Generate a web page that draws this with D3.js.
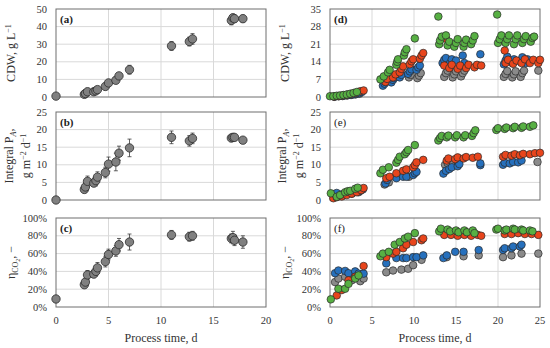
<!DOCTYPE html>
<html>
<head>
<meta charset="utf-8">
<script src="https://cdn.jsdelivr.net/npm/d3@7"></script>
<style>
  body { margin: 0; background: #fff; }
  svg { display: block; font-family: "Liberation Serif", serif; }
</style>
</head>
<body>
<div id="chart"></div>
<script>
// left panels (a)-(c): one mean series with error bars
const leftTime = [0, 2.7, 2.8, 3.0, 3.6, 3.8, 3.95, 4.7, 5.0, 5.7, 6.0, 7.0, 11.0, 12.7, 13.0, 16.7, 16.85, 17.0, 17.8]
const cdwMean = [0.5, 1.5, 2, 3, 3, 3.5, 4.2, 6, 8, 9.5, 12, 15.5, 29, 31.5, 33, 43.5, 45, 44.5, 44.5]
const cdwErr = [0, 0.5, 0.5, 0.7, 0.7, 0.8, 0.8, 1, 1, 1.2, 1.5, 2.5, 2.5, 2.5, 3, 2.5, 2, 2, 2]
const paMean = [0, 3, 3.7, 5.3, 4.8, 5.5, 6.5, 7.8, 10.2, 10.8, 13.3, 14.8, 17.8, 16.8, 17.5, 17.6, 17.8, 17.8, 17]
const paErr = [0, 0.8, 1, 1.5, 1, 1.5, 1.5, 1.5, 2, 2.5, 2, 2.5, 1.8, 1.5, 1.5, 1, 1, 0.8, 0.5]
const etaMean = [9, 25, 28, 36, 37, 40, 44, 51, 59, 63, 70, 73, 81, 79, 80, 77, 78, 75, 73]
const etaErr = [0, 3, 4, 5, 4, 5, 6, 6, 6, 6, 7, 9, 5, 5, 5, 5, 7, 6, 7]

// right panels (d)-(f): four runs, [time, value]
const grayCdw = [[0.5,0.1],[1.0,0.3],[1.5,0.4],[2.0,0.6],[2.5,0.8],[3.0,1.0],[3.5,1.3],
  [9.4,7.8],[9.6,8.8],[10.4,7.5],[10.6,8.5],[10.8,9.5],
  [13.6,8],[13.8,9.5],[14.0,10.5],[14.6,7.8],[14.8,9],[15.0,10.2],[15.6,8.2],[15.8,9.5],[16.0,10.5],
  [20.7,8],[20.9,9.2],[21.1,10.3],[21.7,7.8],[21.9,9],[22.1,10.2],[22.7,8],[22.9,9.5],[23.1,10.5],[24.8,10.5]]
const blueCdw = [[0.6,0.2],[1.1,0.4],[1.6,0.5],[2.1,0.7],[2.6,0.9],[3.1,1.2],[3.5,1.6],[3.8,2.0],
  [6.3,4.5],[6.5,5.3],[6.6,6.0],[7.3,5.8],[7.5,6.8],[7.6,7.5],[8.3,7.8],[8.5,8.8],[9.3,9.2],[9.5,10.2],[9.7,11.0],[10.3,10.8],[10.5,11.8],[10.7,12.5],
  [13.4,13.5],[13.6,14.8],[13.8,15.5],[14.3,13.5],[14.5,15],[15.0,14.5],[15.8,16.5],[16.0,13.5],[17.9,17.0],
  [20.4,22.8],[20.7,13],[20.9,14.5],[21.1,16],[21.7,13.5],[21.9,15],[22.7,14],[22.9,15.8],[23.3,13.5],[23.5,15]]
const redCdw = [[0.5,0.2],[1.0,0.4],[1.5,0.6],[2.0,0.9],[2.5,1.2],[3.0,1.6],[3.6,2.3],[4.0,2.6],
  [6.6,6.0],[6.8,7.2],[7.5,7.8],[7.8,9.0],[8.3,9.8],[8.5,11.2],[8.7,12.2],[9.5,13.0],[9.7,14.2],[9.9,15.0],[10.7,15.2],[10.9,16.5],[11.1,17.5],
  [13.8,23.2],[13.6,12.5],[14.2,11.5],[14.5,12.8],[15.2,11.2],[15.5,12.5],[16.2,11.5],[16.5,12.8],[17.2,11.8],[17.5,12.8],[18.0,12.5],
  [20.8,18.5],[20.9,13.5],[21.2,14.8],[21.8,13.2],[22.2,14.5],[22.8,13.5],[23.2,15],[23.8,13.5],[24.2,14.8],[24.8,13.5],[25,14.8]]
const greenCdw = [[0,0.3],[0.4,0.3],[0.8,0.5],[1.2,0.6],[1.6,0.8],[2.0,1.0],[2.4,1.3],[2.8,1.6],[3.2,2.0],
  [6.0,7.0],[6.4,8.2],[6.9,9.8],[7.1,10.8],[7.9,12.8],[8.0,14.0],[8.1,15.0],[8.8,16.5],[8.9,17.8],[9.1,19.0],[10.1,23.3],
  [12.9,32],[13.0,21],[13.1,22.5],[13.3,24],[13.8,24.5],[14.0,20.5],[14.2,22],[14.8,20],[15.0,21.5],[15.2,23],[15.9,20],[16.0,21.5],[16.2,22.8],[16.8,21],[17.0,22.5],[17.2,24.2],
  [19.9,32.8],[20.0,21.5],[20.2,23],[20.4,24.5],[20.9,21.5],[21.1,23],[21.3,24.5],[21.9,21],[22.1,23],[22.3,24.5],[22.9,21.5],[23.1,23],[23.3,24.2],[23.9,22],[24.1,23.5],[24.3,24]]

const grayPa = [[0.6,0.8],[1.2,1.2],[1.8,1.6],[2.6,1.8],[3.4,2.2],
  [6.5,4.4],[7.0,5.0],[9.4,6.6],
  [13.7,10.0],[14.0,10.5],[14.6,10.8],[15.2,10.8],
  [24.7,10.8]]
const bluePa = [[0.4,1.6],[0.8,2.0],[1.4,1.6],[2.0,1.8],[2.6,2.0],[3.2,2.4],[3.6,2.6],[3.9,3.0],
  [6.6,4.7],[6.8,5.7],[7.9,6.2],[8.7,6.6],[9.1,6.6],[9.9,7.1],[10.1,7.6],[10.3,8.0],
  [13.5,7.5],[13.8,8.3],[14.2,8.8],[14.5,9.3],[15.2,9.6],[15.4,10.2],[17.9,9.9],[17.9,10.4],
  [20.6,10.0],[20.8,10.6],[21.4,10.4],[21.8,10.8],[22.4,10.7],[22.8,11.2]]
const redPa = [[0.4,0.5],[0.8,0.8],[1.4,1.0],[2.0,1.4],[2.6,1.8],[3.2,2.2],[3.7,2.8],[4.0,3.4],
  [6.7,6.2],[7.1,6.6],[7.9,7.6],[8.7,8.3],[9.1,8.7],[9.9,9.3],[10.1,9.9],[10.3,10.7],[11.1,11.4],
  [13.9,11.2],[14.1,11.8],[14.9,11.6],[15.2,12.1],[15.9,11.8],[16.2,12.2],[17.0,12.0],[17.6,12.3],
  [20.6,12.3],[20.9,12.8],[21.6,12.6],[22.0,13.0],[22.6,12.7],[23.0,13.1],[23.8,13.0],[24.4,13.3],[25.0,13.4]]
const greenPa = [[0.1,1.9],[0.8,0.9],[1.2,1.4],[1.8,2.2],[2.1,2.5],[2.4,2.6],[3.0,3.2],[3.3,3.5],
  [6.0,7.6],[6.3,8.6],[7.0,9.3],[7.9,10.6],[8.1,11.4],[8.3,12.3],[8.9,13.0],[9.1,13.6],[9.3,14.2],[10.1,15.6],
  [12.9,16.9],[13.1,17.6],[13.3,18.2],[13.9,17.8],[14.1,18.3],[14.9,17.8],[15.1,18.4],[15.9,17.8],[16.1,18.4],[16.9,18.2],[17.1,19.0],[17.3,19.8],
  [19.8,19.9],[20.0,20.4],[20.8,20.2],[21.0,20.6],[21.8,20.4],[22.0,20.8],[22.8,20.5],[23.0,20.9],[23.8,20.8],[24.2,21.2]]

const grayEta = [[0.6,28],[1.0,32],[1.8,34],[2.6,30],[3.6,29],[4.0,32],
  [6.7,39],[7.5,41],[8.5,42],[9.3,43],[9.9,47],[10.9,53],
  [13.9,56],[15.9,57],[17.7,58],
  [20.6,56],[21.6,58],[22.8,60],[24.8,60]]
const blueEta = [[0.6,38],[1.0,41],[1.8,40.5],[2.2,38],[3.0,40],[3.4,37.5],[4.0,37.5],
  [6.7,49],[7.9,55],[8.7,55],[9.1,55],[9.9,56],[10.3,56],[11.1,58],
  [13.5,55],[13.9,58],[14.9,62],[15.9,62],[17.7,64],
  [20.6,64],[20.8,66],[21.6,66],[21.8,68],[22.6,68],[22.8,70]]
const redEta = [[0.8,13],[1.4,19],[2.2,30],[3.0,34],[4.0,46],
  [6.7,56],[7.5,60],[7.9,62],[8.7,66],[9.1,70],[9.9,73],[10.9,75],[11.1,77],
  [13.6,81],[14.4,81],[15.2,80],[16.0,81],[16.8,80],[17.6,81],[18.0,80],
  [20.8,82],[21.6,82],[22.4,83],[23.2,82],[24.0,82],[24.8,81]]
const greenEta = [[0.1,8.6],[1.0,20.5],[1.8,20.5],[2.2,26],[3.0,32],[3.4,35.5],
  [6.0,57],[6.3,60],[7.0,62],[7.7,70],[8.3,73],[8.9,77],[9.3,79],[10.1,83],
  [13.0,85],[13.2,88],[14.0,87],[14.3,85],[15.0,86],[15.3,84],[16.0,86],[16.3,84],[17.0,86],[17.2,83],
  [19.8,87],[20.0,88],[20.8,86],[21.0,87],[21.8,88],[22.0,87],[22.8,87],[23.0,86],[23.8,86],[24.1,85]]

const runColors = { gray: "#8a8a8a", blue: "#2670bd", red: "#e8451c", green: "#57b043" }

let width = 550, height = 348
let svg = d3.select("#chart").append("svg")
  .attr("width", width)
  .attr("height", height)

// panel frames in pixels
let rows = [{ top: 9, bottom: 97 }, { top: 112, bottom: 200 }, { top: 218, bottom: 307 }]
let leftCol = { left: 56, right: 266 }
let rightCol = { left: 330, right: 540 }

let tickFont = 10.5
let titleFont = 12

function drawFrame(g, x, y, xTicks, yTicks, yFmt, showXLabels) {
  let [x0, x1] = x.range()
  let [y0, y1] = y.range()
  g.append("g").selectAll("line.vg").data(xTicks.filter(d => d !== x.domain()[0] && d !== x.domain()[1]))
    .join("line")
    .attr("x1", d => x(d)).attr("x2", d => x(d))
    .attr("y1", y0).attr("y2", y1)
    .attr("stroke", "#d9d9d9").attr("stroke-width", 1)
  g.append("g").selectAll("line.hg").data(yTicks.filter(d => d !== y.domain()[0] && d !== y.domain()[1]))
    .join("line")
    .attr("x1", x0).attr("x2", x1)
    .attr("y1", d => y(d)).attr("y2", d => y(d))
    .attr("stroke", "#d9d9d9").attr("stroke-width", 1)
  g.append("rect")
    .attr("x", x0).attr("y", y1)
    .attr("width", x1 - x0).attr("height", y0 - y1)
    .attr("fill", "none").attr("stroke", "#6e6e6e").attr("stroke-width", 1)

  g.append("g").selectAll("text").data(yTicks).join("text")
    .attr("x", x0 - 9)
    .attr("y", d => y(d))
    .attr("dy", "0.35em")
    .attr("text-anchor", "end")
    .attr("font-size", tickFont)
    .attr("fill", "#333")
    .text(yFmt)

  if (showXLabels) {
    g.append("g").selectAll("text").data(xTicks).join("text")
      .attr("x", d => x(d))
      .attr("y", y0 + 17)
      .attr("text-anchor", "middle")
      .attr("font-size", tickFont)
      .attr("fill", "#333")
      .text(d => d)
    g.append("text")
      .attr("x", (x0 + x1) / 2)
      .attr("y", y0 + 35)
      .attr("text-anchor", "middle")
      .attr("font-size", titleFont)
      .attr("fill", "#333")
      .text("Process time, d")
  }
}

function panelLabel(g, x, y, label, bold) {
  g.append("text")
    .attr("x", x.range()[0] + 4)
    .attr("y", y.range()[1] + 14)
    .attr("font-size", 11)
    .attr("font-weight", bold ? "bold" : "normal")
    .attr("fill", "#222")
    .text(label)
}

// y axis titles
function titleCdw(g, cx, cy) {
  let t = g.append("text")
    .attr("transform", `translate(${cx},${cy}) rotate(-90)`)
    .attr("text-anchor", "middle")
    .attr("font-size", titleFont)
    .attr("fill", "#333")
  t.append("tspan").text("CDW, g L")
  t.append("tspan").attr("dy", -4).attr("font-size", 8).text("\u22121")
}

function titlePa(g, cx, cy) {
  let t1 = g.append("text")
    .attr("transform", `translate(${cx - 9},${cy}) rotate(-90)`)
    .attr("text-anchor", "middle")
    .attr("font-size", titleFont)
    .attr("fill", "#333")
  t1.append("tspan").text("Integral P")
  t1.append("tspan").attr("dy", 3).attr("font-size", 8).attr("font-style", "italic").text("A")
  t1.append("tspan").attr("dy", -3).text(",")
  let t2 = g.append("text")
    .attr("transform", `translate(${cx + 8},${cy}) rotate(-90)`)
    .attr("text-anchor", "middle")
    .attr("font-size", titleFont)
    .attr("fill", "#333")
  t2.append("tspan").text("g m")
  t2.append("tspan").attr("dy", -4).attr("font-size", 8).text("\u22122")
  t2.append("tspan").attr("dy", 4).text(" d")
  t2.append("tspan").attr("dy", -4).attr("font-size", 8).text("\u22121")
}

function titleEta(g, cx, cy) {
  let t = g.append("text")
    .attr("transform", `translate(${cx},${cy}) rotate(-90)`)
    .attr("text-anchor", "middle")
    .attr("font-size", titleFont)
    .attr("fill", "#333")
  t.append("tspan").text("\u03b7")
  t.append("tspan").attr("dy", 3).attr("font-size", 8).text("CO")
  t.append("tspan").attr("dy", 2).attr("font-size", 6).text("2")
  t.append("tspan").attr("dy", -5).text(", \u2212")
}

let pct = d => d + "%"

// ---- left column ----
let xLeft = d3.scaleLinear().domain([0, 20]).range([leftCol.left, leftCol.right])
let xLeftTicks = [0, 5, 10, 15, 20]

let leftPanels = [
  { row: rows[0], domain: [0, 50], ticks: [0, 10, 20, 30, 40, 50], fmt: d => d, mean: cdwMean, err: cdwErr, label: "(a)", title: titleCdw, tx: 15 },
  { row: rows[1], domain: [0, 25], ticks: [0, 5, 10, 15, 20, 25], fmt: d => d, mean: paMean, err: paErr, label: "(b)", title: titlePa, tx: 22 },
  { row: rows[2], domain: [0, 100], ticks: [0, 20, 40, 60, 80, 100], fmt: pct, mean: etaMean, err: etaErr, label: "(c)", title: titleEta, tx: 15 }
]

leftPanels.forEach((p, i) => {
  let y = d3.scaleLinear().domain(p.domain).range([p.row.bottom, p.row.top])
  let g = svg.append("g")
  drawFrame(g, xLeft, y, xLeftTicks, p.ticks, p.fmt, i === 2)
  p.title(g, p.tx, (p.row.top + p.row.bottom) / 2)
  panelLabel(g, xLeft, y, p.label, true)

  let pts = leftTime.map((t, k) => ({ t: t, v: p.mean[k], e: p.err[k] }))
  let eb = g.append("g").attr("stroke", "#3a3a3a").attr("stroke-width", 0.8)
  pts.filter(d => d.e > 0).forEach(d => {
    eb.append("line").attr("x1", xLeft(d.t)).attr("x2", xLeft(d.t))
      .attr("y1", y(d.v - d.e)).attr("y2", y(d.v + d.e))
    eb.append("line").attr("x1", xLeft(d.t) - 2).attr("x2", xLeft(d.t) + 2)
      .attr("y1", y(d.v + d.e)).attr("y2", y(d.v + d.e))
    eb.append("line").attr("x1", xLeft(d.t) - 2).attr("x2", xLeft(d.t) + 2)
      .attr("y1", y(d.v - d.e)).attr("y2", y(d.v - d.e))
  })
  g.append("g").selectAll("circle").data(pts).join("circle")
    .attr("cx", d => xLeft(d.t))
    .attr("cy", d => y(d.v))
    .attr("r", 4.2)
    .attr("fill", "#808080")
    .attr("stroke", "#2b2b2b")
    .attr("stroke-width", 0.8)
})

// ---- right column ----
let xRight = d3.scaleLinear().domain([0, 25]).range([rightCol.left, rightCol.right])
let xRightTicks = [0, 5, 10, 15, 20, 25]

let rightPanels = [
  { row: rows[0], domain: [0, 35], ticks: [0, 7, 14, 21, 28, 35], fmt: d => d, label: "(d)", bold: true, title: titleCdw, tx: 289,
    runs: [["gray", grayCdw], ["blue", blueCdw], ["red", redCdw], ["green", greenCdw]] },
  { row: rows[1], domain: [0, 25], ticks: [0, 5, 10, 15, 20, 25], fmt: d => d, label: "(e)", bold: false, title: titlePa, tx: 295,
    runs: [["gray", grayPa], ["blue", bluePa], ["red", redPa], ["green", greenPa]] },
  { row: rows[2], domain: [0, 100], ticks: [0, 20, 40, 60, 80, 100], fmt: pct, label: "(f)", bold: false, title: titleEta, tx: 289,
    runs: [["gray", grayEta], ["blue", blueEta], ["red", redEta], ["green", greenEta]] }
]

rightPanels.forEach((p, i) => {
  let y = d3.scaleLinear().domain(p.domain).range([p.row.bottom, p.row.top])
  let g = svg.append("g")
  drawFrame(g, xRight, y, xRightTicks, p.ticks, p.fmt, i === 2)
  p.title(g, p.tx, (p.row.top + p.row.bottom) / 2)
  panelLabel(g, xRight, y, p.label, p.bold)

  p.runs.forEach(([name, data]) => {
    g.append("g").selectAll("circle").data(data).join("circle")
      .attr("cx", d => xRight(d[0]))
      .attr("cy", d => y(d[1]))
      .attr("r", 3.8)
      .attr("fill", runColors[name])
      .attr("stroke", "#2a2a2a")
      .attr("stroke-width", 0.7)
  })
})
</script>
</body>
</html>
